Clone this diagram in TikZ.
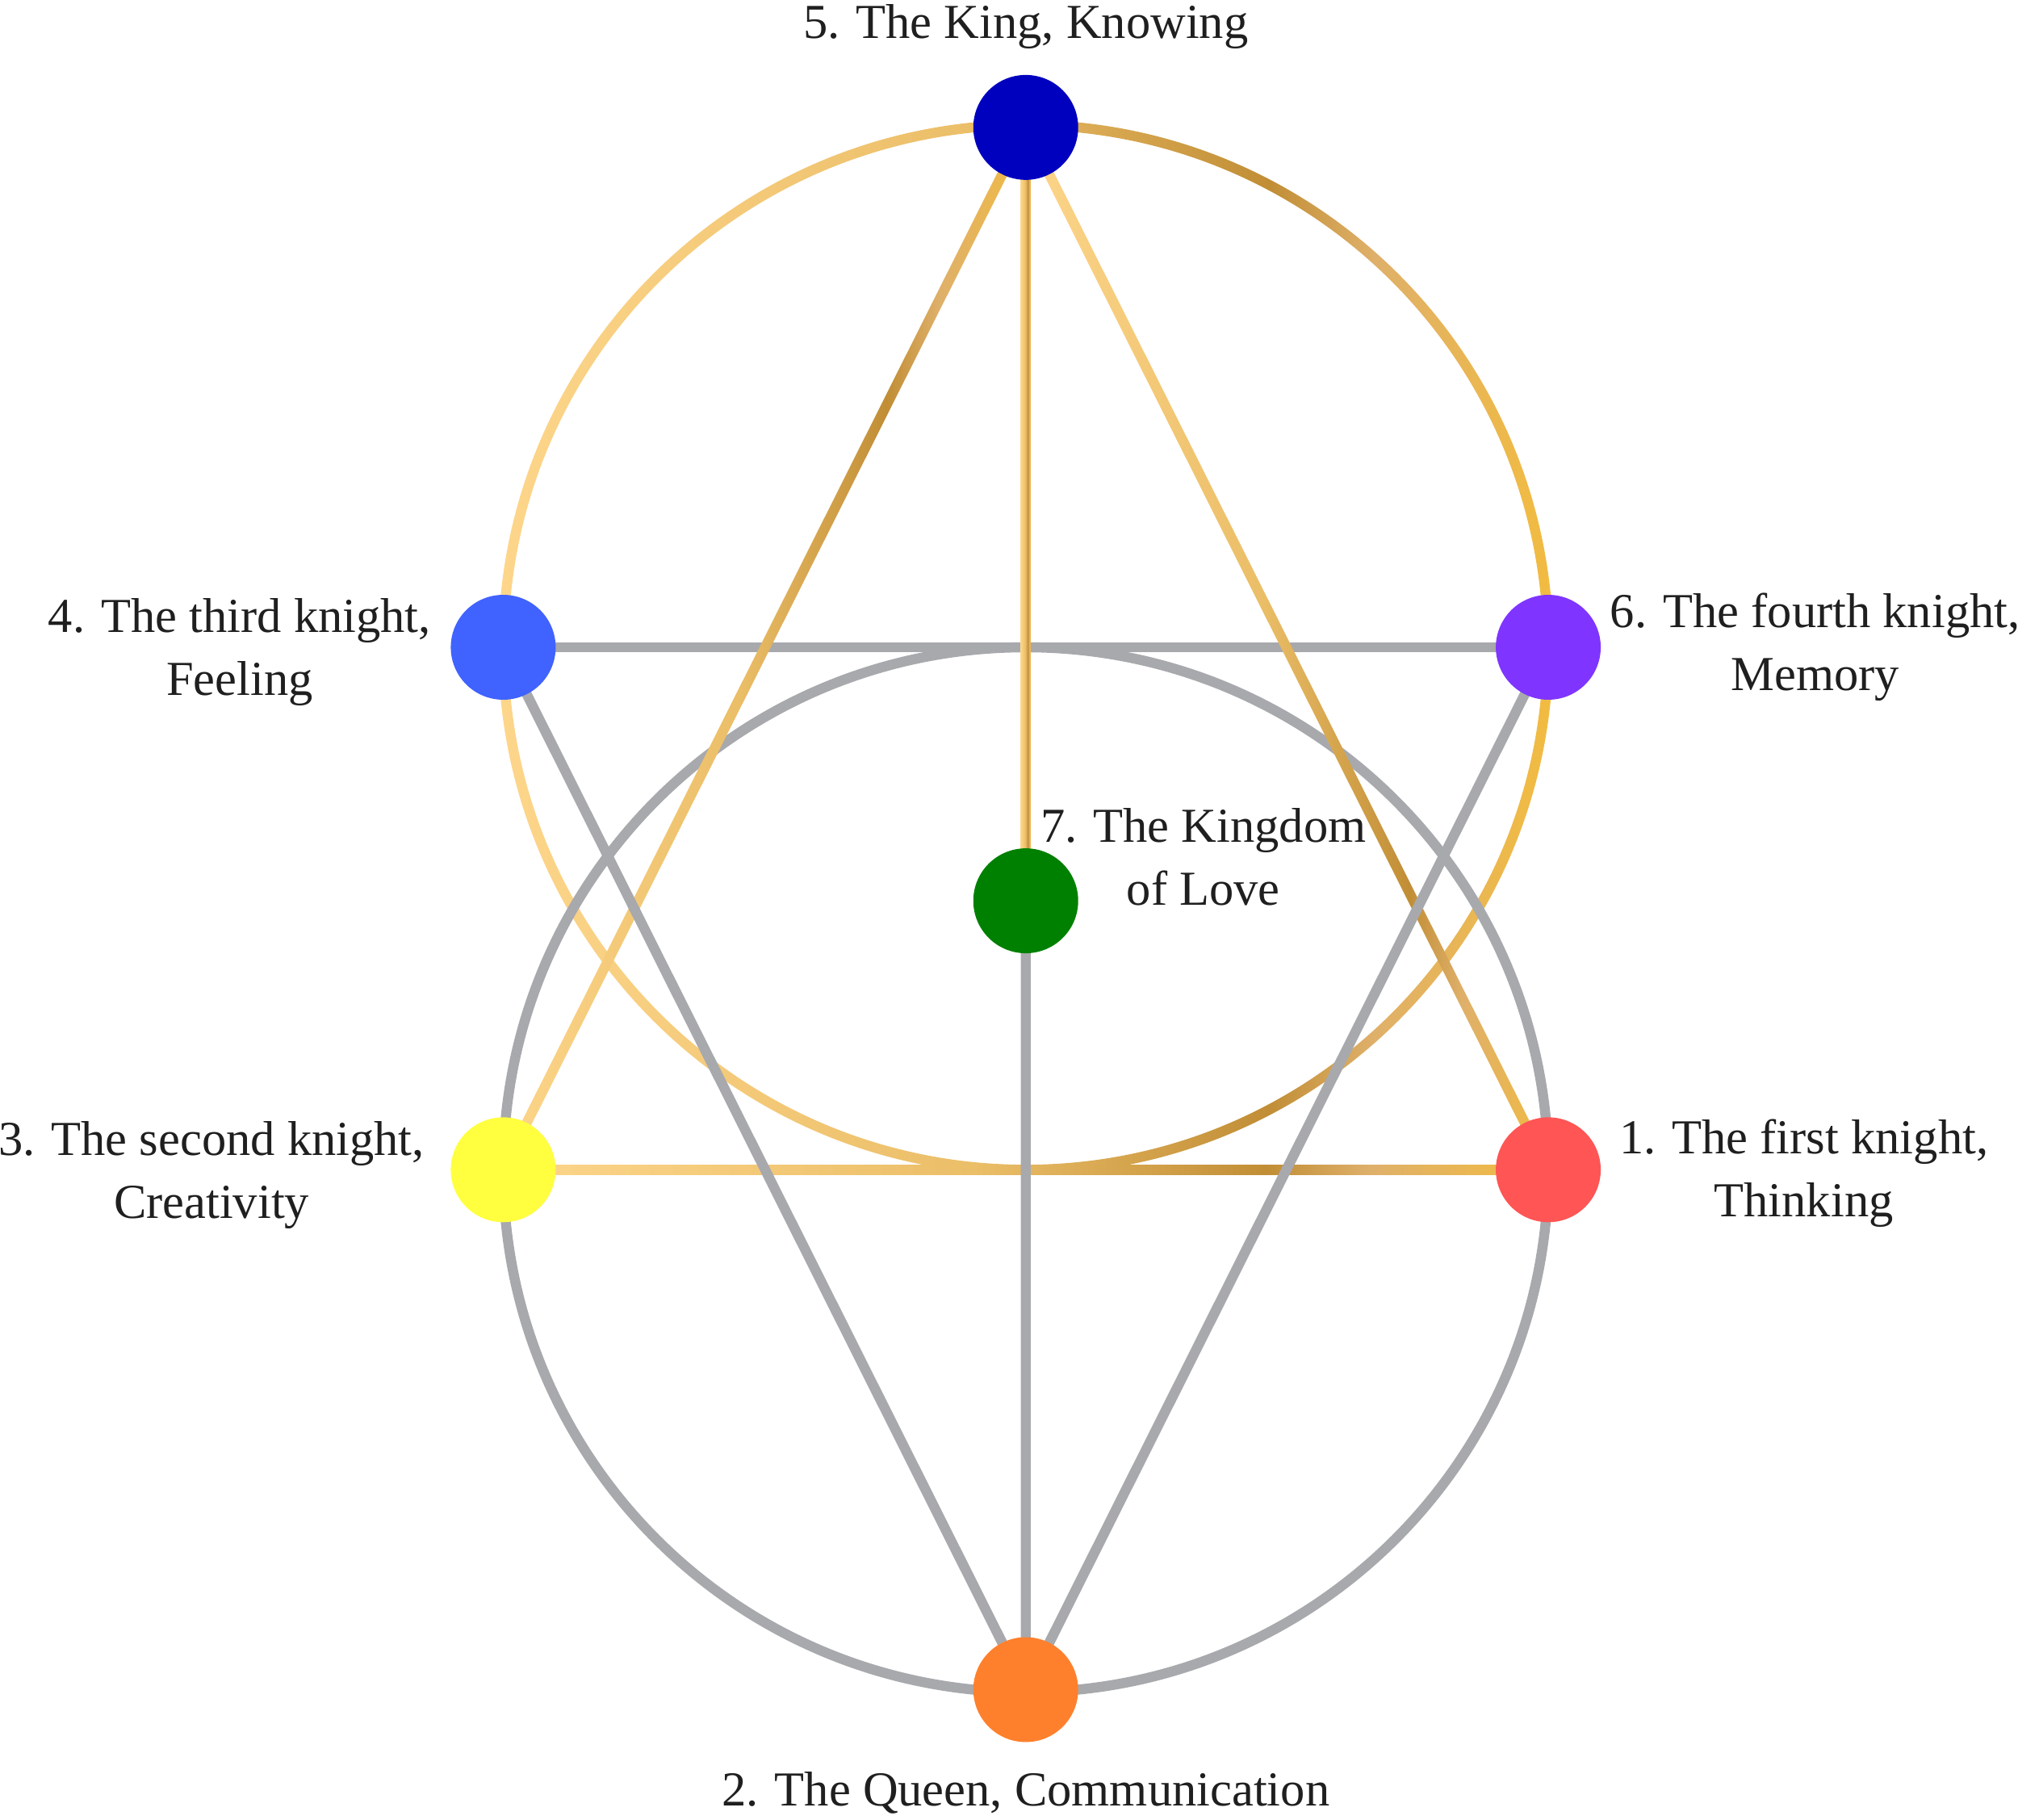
\documentclass[tikz,border=0pt]{standalone}
\usepackage{fontspec}
\setmainfont{Liberation Serif}
\usetikzlibrary{calc,positioning,backgrounds}

\definecolor{goldA}{HTML}{FDD68B}
\definecolor{goldM}{HTML}{EBBE68}
\definecolor{goldB}{HTML}{C18E36}
\definecolor{goldC}{HTML}{DFB06A}
\definecolor{goldD}{HTML}{F2BC40}
\definecolor{wirecol}{HTML}{A8A9AD}
\definecolor{king}{HTML}{0000BF}
\definecolor{third}{HTML}{4062FF}
\definecolor{fourth}{HTML}{7F35FF}
\definecolor{love}{HTML}{008000}
\definecolor{second}{HTML}{FFFF40}
\definecolor{first}{HTML}{FF5555}
\definecolor{queen}{HTML}{FF802C}

\pgfdeclarehorizontalshading{goldgrad}{100bp}{color(0bp)=(goldA); color(25bp)=(goldA); color(47.5bp)=(goldM); color(61.5bp)=(goldB); color(66.5bp)=(goldC); color(75bp)=(goldD); color(100bp)=(goldD)}

\begin{document}
\begin{tikzpicture}[
        knot/.style={circle,minimum size=0.815cm,inner sep=0pt},
        wire/.style={draw=wirecol,line width=0.078cm},
        gold/.style={shading=goldgrad},
        lbl/.style={inner sep=0pt,align=center,text=black!88,font=\fontsize{10.8}{13.9}\selectfont}
    ]
        \useasboundingbox (0,0) rectangle (15.68,-14.14);

        \node[knot,fill=king] (n5) at (7.97,-0.99) {};
        \node[knot,fill=third] (n4) at (3.91,-5.03) {};
        \node[knot,fill=fourth] (n6) at (12.03,-5.03) {};
        \node[knot,fill=love] (n7) at (7.97,-7.00) {};
        \node[knot,fill=second] (n3) at (3.91,-9.09) {};
        \node[knot,fill=first] (n1) at (12.03,-9.09) {};
        \node[knot,fill=queen] (n2) at (7.97,-13.13) {};

        \coordinate (upper) at ($(n4)!0.5!(n6)$);
        \coordinate (lower) at ($(n3)!0.5!(n1)$);

        \begin{scope}[on background layer]
            \shade[gold,even odd rule] (upper) circle (4.099) (upper) circle (4.021);
            \draw[wire] (lower) circle (4.06);
            \draw[wire] (n4.center) -- (n6.center);
            \foreach \a/\b in {n5/n3,n5/n1,n3/n1,n5/n7}
                \shade[gold] ($(\a.center)!0.039cm!90:(\b.center)$) -- ($(\a.center)!0.039cm!-90:(\b.center)$) -- ($(\b.center)!0.039cm!90:(\a.center)$) -- ($(\b.center)!0.039cm!-90:(\a.center)$) -- cycle;
            \draw[wire] (n4.center) -- (n2.center) (n6.center) -- (n2.center) (n7.center) -- (n2.center);
        \end{scope}

        \node[lbl,above=0.19cm of n5] (l5) {5. The King, Knowing};
        \node[lbl,below=0.22cm of n2] (l2) {2. The Queen, Communication};
        \node[lbl,left=0.14cm of n4,yshift=-0.04cm] (l4) {4. The third knight,\\Feeling};
        \node[lbl,right=0.06cm of n6] (l6) {6. The fourth knight,\\Memory};
        \node[lbl,left=0.19cm of n3,yshift=-0.04cm] (l3) {3. The second knight,\\Creativity};
        \node[lbl,right=0.13cm of n1,yshift=-0.03cm] (l1) {1. The first knight,\\Thinking};
        \node[lbl] (l7) at ($(n7)+(1.38,0.34)$) {7. The Kingdom\\of Love};
    \end{tikzpicture}
\end{document}
